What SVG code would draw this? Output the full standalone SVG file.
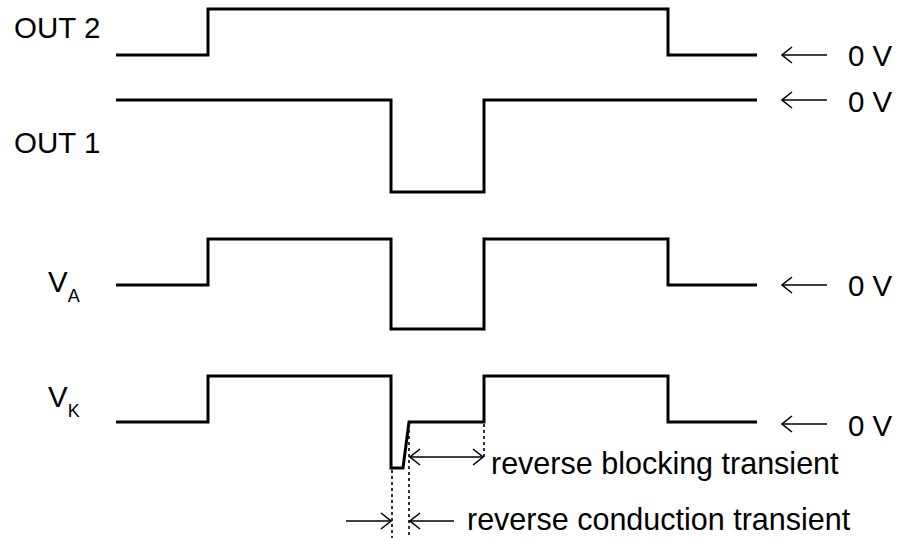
<svg xmlns="http://www.w3.org/2000/svg" width="899" height="538" viewBox="0 0 899 538">
<style>
.wave{fill:none;stroke:#000;stroke-width:3;stroke-linejoin:miter}
.arr{fill:none;stroke:#000;stroke-width:1.6}
.dash{fill:none;stroke:#000;stroke-width:1.6;stroke-dasharray:3,3}
.lbl{font-family:"Liberation Sans",Arial,sans-serif;font-size:29.5px;fill:#000}
.sub{font-family:"Liberation Sans",Arial,sans-serif;font-size:18px;fill:#000}
.note{font-family:"Liberation Sans",Arial,sans-serif;font-size:30.5px;fill:#000}
</style>
<defs>
<marker id="ah" viewBox="0 0 12 18" refX="11" refY="9" markerWidth="12" markerHeight="18" markerUnits="userSpaceOnUse" orient="auto-start-reverse">
<path d="M1,1 L11,9 L1,17" fill="none" stroke="#000" stroke-width="1.6"/>
</marker>
</defs>
<rect width="899" height="538" fill="#fff"/>
<g id="out2">
<text class="lbl" x="14" y="38">OUT 2</text>
<path class="wave" d="M116,55 H208 V9 H668 V55 H757"/>
</g>
<g id="out1">
<text class="lbl" x="14" y="153">OUT 1</text>
<path class="wave" d="M116,100 H391 V192 H484 V100 H757"/>
</g>
<g id="va">
<text class="lbl" x="48" y="292">V<tspan class="sub" dy="10">A</tspan></text>
<path class="wave" d="M116,285 H208 V239 H391 V329 H484 V239 H668 V285 H757"/>
</g>
<g id="vk">
<text class="lbl" x="48" y="407">V<tspan class="sub" dy="10">K</tspan></text>
<path class="wave" d="M116,422 H208 V376 H391 V468 H403 L409,422 H484 V376 H668 V422 H757"/>
</g>
<g id="zero-labels">
<text class="lbl" x="848" y="66">0 V</text>
<text class="lbl" x="848" y="112">0 V</text>
<text class="lbl" x="848" y="296">0 V</text>
<text class="lbl" x="848" y="436">0 V</text>
</g>
<g id="notes">
<text class="note" x="491" y="474">reverse blocking transient</text>
<text class="note" x="467" y="530">reverse conduction transient</text>
</g>
<g id="connectors">
<line class="arr" x1="827" y1="55" x2="782" y2="55" marker-end="url(#ah)"/>
<line class="arr" x1="827" y1="100" x2="782" y2="100" marker-end="url(#ah)"/>
<line class="arr" x1="827" y1="285" x2="782" y2="285" marker-end="url(#ah)"/>
<line class="arr" x1="827" y1="424" x2="782" y2="424" marker-end="url(#ah)"/>
<line class="dash" x1="392" y1="470" x2="392" y2="538"/>
<line class="dash" x1="409" y1="424" x2="409" y2="538"/>
<line class="dash" x1="484" y1="424" x2="484" y2="457"/>
<line class="arr" x1="410" y1="457" x2="483" y2="457" marker-start="url(#ah)" marker-end="url(#ah)"/>
<line class="arr" x1="346" y1="521" x2="391" y2="521" marker-end="url(#ah)"/>
<line class="arr" x1="454" y1="521" x2="410" y2="521" marker-end="url(#ah)"/>
</g>
</svg>
